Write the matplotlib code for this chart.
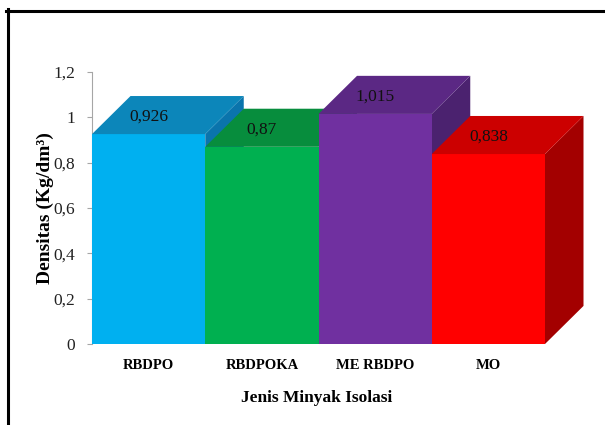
import matplotlib
matplotlib.use("Agg")
import matplotlib.pyplot as plt
from matplotlib.patches import Polygon
from matplotlib.lines import Line2D
from matplotlib.ticker import FuncFormatter
import numpy as np

plt.rcParams['font.family'] = ['Liberation Serif', 'DejaVu Serif']

# data
kategori = ["RBDPO", "RBDPOKA", "ME RBDPO", "MO"]
densitas = [0.926, 0.87, 1.015, 0.838]
yticks = [0, 0.2, 0.4, 0.6, 0.8, 1.0, 1.2]

# warna: depan, atas, samping
warna_depan = ["#00B0F0", "#00B050", "#7030A0", "#FF0000"]
warna_atas = ["#0C86BA", "#078D3D", "#5B2884", "#CC0000"]
warna_samping = ["#0A74AC", "#06733A", "#4B226F", "#A30000"]

fig = plt.figure(figsize=(6.05, 4.25), dpi=100)
ax = fig.add_axes([92/605, 81/425, 453/605, 272/425])

ax.set_xlim(0, len(kategori))
ax.set_ylim(0, 1.2)

# kedalaman 3D dalam satuan data
dx = 0.34
dy = 0.168

x = np.arange(len(kategori))
for i, (xi, v) in enumerate(zip(x, densitas)):
    z = 2 + i * 3
    ax.bar(xi, v, width=1.0, align='edge', color=warna_depan[i],
           linewidth=0, zorder=z + 1)
    atas = Polygon([(xi, v), (xi + 1, v), (xi + 1 + dx, v + dy), (xi + dx, v + dy)],
                   closed=True, facecolor=warna_atas[i], edgecolor='none',
                   zorder=z + 1, clip_on=False)
    samping = Polygon([(xi + 1, 0), (xi + 1 + dx, dy), (xi + 1 + dx, v + dy), (xi + 1, v)],
                      closed=True, facecolor=warna_samping[i], edgecolor='none',
                      zorder=z, clip_on=False)
    ax.add_patch(samping)
    ax.add_patch(atas)
    label = f"{v:g}".replace('.', ',')
    ax.annotate(label, (xi + 0.5, v), xytext=(0, 12.5), textcoords='offset points',
                ha='center', va='center', fontsize=12.5, color='#111111',
                zorder=z + 2, annotation_clip=False)

for s in ['top', 'right', 'bottom']:
    ax.spines[s].set_visible(False)
ax.spines['left'].set_color('#A6A6A6')
ax.spines['left'].set_linewidth(0.8)

ax.set_yticks(yticks)
ax.yaxis.set_major_formatter(FuncFormatter(lambda v, p: f"{v:g}".replace('.', ',')))
ax.tick_params(axis='y', length=3.5, width=0.8, color='#A6A6A6', pad=8.5,
               labelsize=12.5, labelcolor='#222222')

ax.set_xticks(x + 0.5)
ax.set_xticklabels(kategori, fontweight='bold', fontsize=10.5)
ax.tick_params(axis='x', length=0, pad=11)

ax.set_ylabel("Densitas (Kg/dm³)", fontsize=14, fontweight='bold', va='center')
ax.yaxis.set_label_coords(-0.104, 0.5)
ax.set_xlabel("Jenis Minyak Isolasi", fontsize=12.5, fontweight='bold', va='center')
ax.xaxis.set_label_coords(0.495, -0.2)

# bingkai hitam atas dan kiri
fig.add_artist(Line2D([6/605, 1.0], [1 - 10.5/425, 1 - 10.5/425],
                      color='black', linewidth=2.2, transform=fig.transFigure))
fig.add_artist(Line2D([7.5/605, 7.5/605], [1 - 9/425, 0],
                      color='black', linewidth=2.2, transform=fig.transFigure))

plt.savefig("out.png", dpi=100)
plt.close(fig)
